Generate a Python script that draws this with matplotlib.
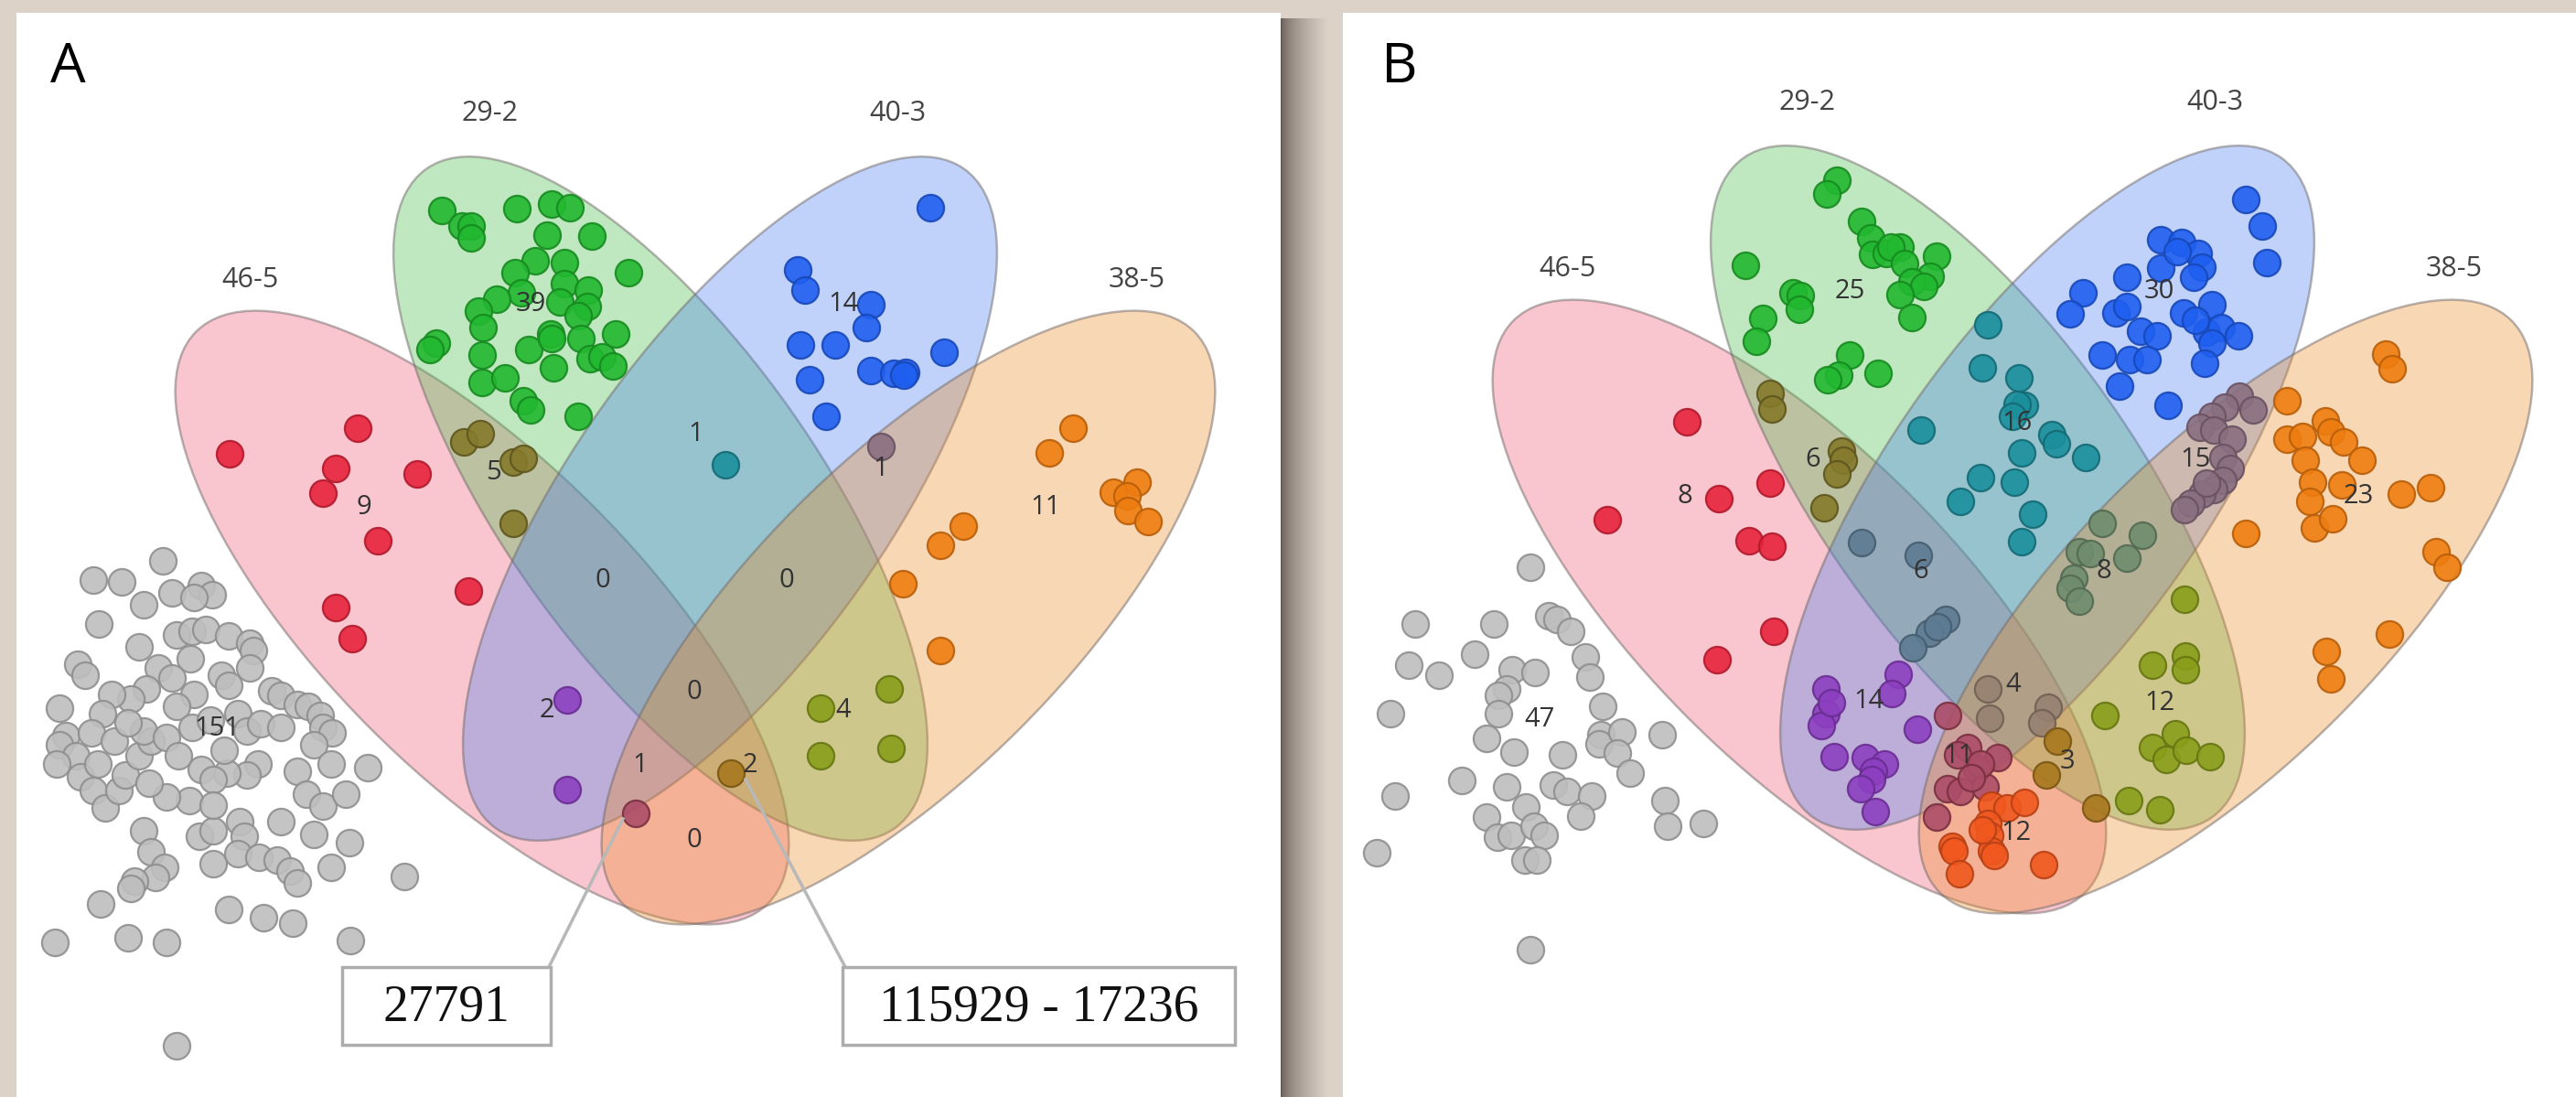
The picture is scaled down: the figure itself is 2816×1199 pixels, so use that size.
import numpy as np
import matplotlib.pyplot as plt
from matplotlib.patches import Ellipse, Rectangle

plt.rcParams['font.family'] = ['Open Sans', 'DejaVu Sans']

W, H = 2816, 1199

# ---- set layout (panel A, panel B is shifted) ----
set_names = ['46-5', '29-2', '40-3', '38-5']
set_fill = ['#ee5a73', '#48bc48', '#487dee', '#eb8a25']
set_centers = [(527, 675), (722, 545), (798, 545), (993, 675)]
set_angles = [45, 54.6, -54.6, -45]
set_label_pos = [(274, 306), (536, 124), (981, 124), (1243, 306)]
panel_b_shift = (1440, -12)

# ---- panel A points ----
a_grey = [(178, 613), (102, 634), (133, 636), (157, 661), (188, 648), (220, 640), (232, 650), (212, 653),
          (108, 682), (152, 707), (85, 726), (93, 738), (193, 694), (210, 690), (225, 688), (250, 695),
          (273, 703), (277, 711), (208, 720), (173, 730), (188, 741), (242, 738), (250, 749), (273, 730),
          (160, 753), (143, 764), (122, 759), (212, 759), (193, 772), (112, 780), (65, 774), (297, 755),
          (307, 760), (325, 770), (337, 772), (350, 782), (353, 795), (363, 801), (343, 814), (362, 835),
          (72, 804), (65, 814), (100, 801), (83, 826), (62, 835), (88, 849), (107, 835), (102, 864),
          (115, 883), (130, 864), (137, 847), (152, 826), (165, 810), (157, 799), (182, 806), (210, 795),
          (230, 787), (260, 780), (270, 799), (285, 791), (307, 795), (282, 835), (270, 847), (248, 845),
          (220, 841), (233, 852), (207, 875), (182, 871), (163, 856), (325, 843), (335, 868), (353, 881),
          (378, 868), (402, 839), (307, 898), (343, 912), (382, 921), (362, 948), (157, 908), (165, 931),
          (180, 948), (170, 959), (147, 963), (143, 971), (110, 988), (60, 1030), (140, 1025), (182, 1030),
          (218, 914), (233, 944), (233, 908), (262, 898), (267, 914), (260, 933), (283, 937), (303, 940),
          (317, 952), (325, 965), (250, 994), (288, 1003), (320, 1009), (383, 1028), (442, 958), (193, 1143),
          (233, 880), (195, 826), (245, 820), (125, 810), (140, 790)]
a_red = [(251, 496), (391, 468), (367, 512), (353, 539), (456, 518), (413, 591), (512, 646), (367, 664), (385, 698)]
a_green = [(483, 230), (505, 247), (515, 247), (515, 260), (565, 228), (603, 223), (623, 227), (598, 257),
           (647, 258), (687, 298), (585, 285), (563, 298), (617, 287), (617, 310), (643, 317), (612, 330),
           (642, 335), (632, 345), (570, 320), (543, 327), (523, 340), (528, 358), (477, 375), (470, 382),
           (527, 388), (578, 382), (602, 365), (603, 370), (635, 370), (673, 365), (605, 402), (645, 392),
           (658, 390), (670, 400), (527, 418), (552, 413), (572, 438), (580, 448), (632, 455)]
a_blue = [(1017, 227), (872, 295), (880, 317), (952, 333), (947, 358), (875, 377), (913, 377), (1032, 385),
          (952, 405), (977, 408), (990, 407), (988, 410), (885, 415), (903, 455)]
a_orange = [(1173, 468), (1147, 495), (1243, 527), (1217, 538), (1232, 542), (1233, 558), (1255, 570),
            (1053, 575), (1028, 596), (987, 638), (1028, 711)]
a_olive = [(507, 483), (525, 474), (561, 505), (572, 501), (561, 572)]
a_teal = [(793, 508)]
a_mauve = [(963, 488)]
a_purple = [(620, 765), (620, 863)]
a_rose = [(695, 889)]
a_gold = [(799, 845)]
a_ygreen = [(897, 774), (972, 753), (897, 826), (974, 818)]

a_counts = ['39', '14', '9', '5', '1', '1', '11', '0', '0', '0', '2', '4', '1', '2', '0', '151']
a_count_pos = [(580, 333), (922, 333), (398, 554), (539, 516), (761, 474), (963, 513), (1143, 555),
               (659, 635), (860, 635), (759, 757), (598, 776), (922, 776), (700, 837), (820, 837),
               (759, 918), (237, 797)]

# ---- panel B points ----
b_grey = [(1673, 620), (1547, 682), (1633, 682), (1693, 673), (1702, 677), (1717, 690), (1540, 727),
          (1573, 738), (1612, 715), (1653, 732), (1678, 735), (1647, 753), (1638, 760), (1638, 780),
          (1733, 718), (1738, 740), (1520, 780), (1625, 807), (1655, 822), (1708, 825), (1752, 772),
          (1750, 803), (1748, 813), (1773, 800), (1768, 823), (1782, 845), (1817, 803), (1598, 853),
          (1525, 870), (1647, 860), (1698, 858), (1713, 865), (1740, 870), (1728, 892), (1668, 882),
          (1625, 893), (1637, 915), (1652, 913), (1677, 903), (1688, 913), (1667, 940), (1680, 940),
          (1820, 875), (1823, 903), (1862, 900), (1505, 932), (1673, 1038)]
b_red = [(1844, 461), (1879, 545), (1935, 528), (1757, 568), (1912, 591), (1937, 597), (1939, 690), (1877, 721)]
b_green = [(2008, 197), (1997, 212), (2035, 242), (2045, 260), (2047, 278), (2062, 277), (2077, 270),
           (2067, 270), (2082, 288), (2117, 280), (2110, 302), (2090, 308), (2103, 313), (2077, 322),
           (2090, 347), (1908, 290), (1960, 320), (1968, 323), (1967, 338), (1927, 348), (1920, 373),
           (2022, 388), (2010, 410), (1998, 415), (2053, 408)]
b_blue = [(2455, 218), (2473, 247), (2478, 287), (2362, 262), (2385, 265), (2403, 277), (2407, 292),
          (2398, 303), (2362, 293), (2325, 303), (2277, 320), (2263, 343), (2313, 342), (2325, 335),
          (2387, 342), (2418, 333), (2340, 362), (2358, 367), (2412, 363), (2428, 358), (2447, 367),
          (2418, 375), (2298, 388), (2328, 393), (2347, 393), (2410, 397), (2317, 422), (2370, 443),
          (2380, 275), (2400, 350)]
b_orange = [(2608, 387), (2615, 403), (2500, 438), (2542, 460), (2548, 472), (2562, 483), (2500, 480),
            (2517, 477), (2582, 503), (2520, 503), (2528, 527), (2560, 530), (2525, 548), (2530, 577),
            (2550, 567), (2625, 540), (2657, 533), (2455, 583), (2663, 603), (2675, 620), (2612, 693),
            (2543, 712), (2548, 742)]
b_olive = [(1935, 430), (1937, 447), (2013, 493), (2015, 503), (2008, 518), (1994, 555)]
b_teal = [(2173, 355), (2167, 402), (2207, 413), (2213, 443), (2205, 442), (2100, 470), (2243, 475),
          (2248, 485), (2210, 495), (2280, 500), (2165, 522), (2202, 527), (2143, 548), (2222, 562),
          (2210, 592), (2200, 455)]
b_mauve = [(2448, 433), (2463, 448), (2432, 445), (2418, 455), (2405, 467), (2420, 470), (2440, 480),
           (2430, 500), (2438, 512), (2430, 525), (2420, 535), (2407, 540), (2395, 550), (2388, 557),
           (2412, 528)]
b_slate = [(2035, 593), (2097, 607), (2127, 677), (2109, 692), (2091, 708), (2118, 685)]
b_sage = [(2298, 572), (2342, 585), (2325, 610), (2273, 603), (2285, 605), (2267, 632), (2263, 643), (2273, 657)]
b_purple = [(1996, 753), (1996, 780), (1991, 793), (2002, 768), (2075, 737), (2068, 758), (2096, 797),
            (2005, 827), (2039, 828), (2060, 835), (2048, 843), (2046, 852), (2034, 862), (2050, 887)]
b_brown = [(2173, 753), (2175, 785), (2239, 773), (2232, 790)]
b_rose = [(2129, 782), (2151, 817), (2184, 828), (2161, 840), (2129, 862), (2143, 865), (2170, 860),
          (2117, 893), (2140, 825), (2165, 835), (2155, 850)]
b_redorange = [(2177, 880), (2194, 883), (2213, 877), (2173, 900), (2175, 913), (2177, 930), (2134, 925),
               (2136, 930), (2142, 955), (2234, 945), (2180, 935), (2167, 907)]
b_gold = [(2249, 810), (2237, 847), (2291, 883)]
b_ygreen = [(2389, 717), (2389, 732), (2353, 727), (2301, 782), (2378, 802), (2353, 817), (2368, 830),
            (2390, 820), (2416, 827), (2327, 875), (2361, 885), (2388, 655)]

b_counts = ['25', '30', '8', '6', '16', '15', '23', '6', '8', '14', '4', '12', '11', '3', '12', '47']
b_count_pos = [(2022, 318), (2360, 318), (1842, 543), (1982, 503), (2205, 462), (2400, 502), (2578, 543),
               (2100, 625), (2300, 625), (2043, 767), (2201, 748), (2361, 768), (2141, 827), (2260, 832),
               (2204, 910), (1683, 787)]

# callouts in panel A
callout_text = ['27791', '115929 - 17236']
callout_box = [(374, 1057, 228, 85), (921, 1057, 429, 85)]
callout_line = [((600, 1057), (681, 895)), ((924, 1057), (815, 852))]

colors = {
    'grey': ('#bebebe', '#8f8f8f'), 'red': ('#e8233c', '#b01a2c'), 'green': ('#22b830', '#178a20'),
    'blue': ('#1f5ff0', '#1848b8'), 'orange': ('#ee7d10', '#b85e0a'), 'olive': ('#857a2c', '#5e561e'),
    'teal': ('#1b8f9c', '#146a74'), 'mauve': ('#8a6f80', '#6a5262'), 'purple': ('#8c3fc0', '#6a2d92'),
    'ygreen': ('#8a9e1a', '#667612'), 'rose': ('#ab4d68', '#7a3040'), 'gold': ('#a8781e', '#7a5614'),
    'slate': ('#5d7b92', '#465d6e'), 'sage': ('#6f8c6e', '#536a52'), 'brown': ('#978070', '#726054'),
    'redorange': ('#f0581e', '#b84014'),
}

fig = plt.figure(figsize=(W / 100, H / 100), dpi=100)
fig.patch.set_facecolor('#dcd2c8')
ax = fig.add_axes([0, 0, 1, 1])
ax.set_xlim(0, W)
ax.set_ylim(H, 0)
ax.axis('off')

# panels + shadow
ax.add_patch(Rectangle((18, 14), 1382, 1190, fc='white', ec='none', zorder=0))
ax.add_patch(Rectangle((1468, 14), 1360, 1190, fc='white', ec='none', zorder=0))
g = np.linspace(0, 1, 60) ** 0.6
dark = np.array([100, 90, 84]) / 255
beige = np.array([220, 210, 200]) / 255
grad = dark[None, :] * (1 - g[:, None]) + beige[None, :] * g[:, None]
ax.imshow(grad[None, :, :], extent=[1400, 1452, 1199, 20], aspect='auto', zorder=0)


def draw_venn(dx, dy):
    for c, ang, col in zip(set_centers, set_angles, set_fill):
        ax.add_patch(Ellipse((c[0] + dx, c[1] + dy), 2 * 442, 2 * 172, angle=ang,
                             fc=col, alpha=0.34, ec='none', zorder=1))
        ax.add_patch(Ellipse((c[0] + dx, c[1] + dy), 2 * 442, 2 * 172, angle=ang,
                             fc='none', ec=(0.45, 0.42, 0.42, 0.5), lw=1.8, zorder=1))
    for name, (x, y) in zip(set_names, set_label_pos):
        ax.text(x + dx, y + dy, name, fontsize=22, color='#444444', ha='center', va='center', zorder=4)


def draw_points(pts, key):
    pts = np.array(pts)
    fc, ec = colors[key]
    ax.scatter(pts[:, 0], pts[:, 1], s=440, c=fc, edgecolors=ec, linewidths=1.6, alpha=0.9, zorder=3)


def draw_counts(labels, pos):
    for t, (x, y) in zip(labels, pos):
        ax.text(x, y, t, fontsize=21, color='#333333', ha='center', va='center', zorder=4)


draw_venn(0, 0)
draw_venn(*panel_b_shift)

for pts, key in [(a_grey, 'grey'), (a_red, 'red'), (a_green, 'green'), (a_blue, 'blue'),
                 (a_orange, 'orange'), (a_olive, 'olive'), (a_teal, 'teal'), (a_mauve, 'mauve'),
                 (a_purple, 'purple'), (a_rose, 'rose'), (a_gold, 'gold'), (a_ygreen, 'ygreen')]:
    draw_points(pts, key)
for pts, key in [(b_grey, 'grey'), (b_red, 'red'), (b_green, 'green'), (b_blue, 'blue'),
                 (b_orange, 'orange'), (b_olive, 'olive'), (b_teal, 'teal'), (b_mauve, 'mauve'),
                 (b_slate, 'slate'), (b_sage, 'sage'), (b_purple, 'purple'), (b_brown, 'brown'),
                 (b_rose, 'rose'), (b_redorange, 'redorange'), (b_gold, 'gold'), (b_ygreen, 'ygreen')]:
    draw_points(pts, key)

draw_counts(a_counts, a_count_pos)
draw_counts(b_counts, b_count_pos)

# callouts
for (p0, p1) in callout_line:
    ax.plot([p0[0], p1[0]], [p0[1], p1[1]], color='#b8b8b8', lw=2.5, zorder=5)
for t, (x, y, w, h) in zip(callout_text, callout_box):
    ax.add_patch(Rectangle((x, y), w, h, fc='white', ec='#adadad', lw=2.5, zorder=6))
    ax.text(x + w / 2, y + h / 2 + 2, t, fontsize=40, family='Liberation Serif',
            color='#111111', ha='center', va='center', zorder=7)

ax.text(74, 74, 'A', fontsize=44, color='black', ha='center', va='center')
ax.text(1530, 74, 'B', fontsize=44, color='black', ha='center', va='center')

fig.savefig('out.png', dpi=100, facecolor=fig.get_facecolor())
